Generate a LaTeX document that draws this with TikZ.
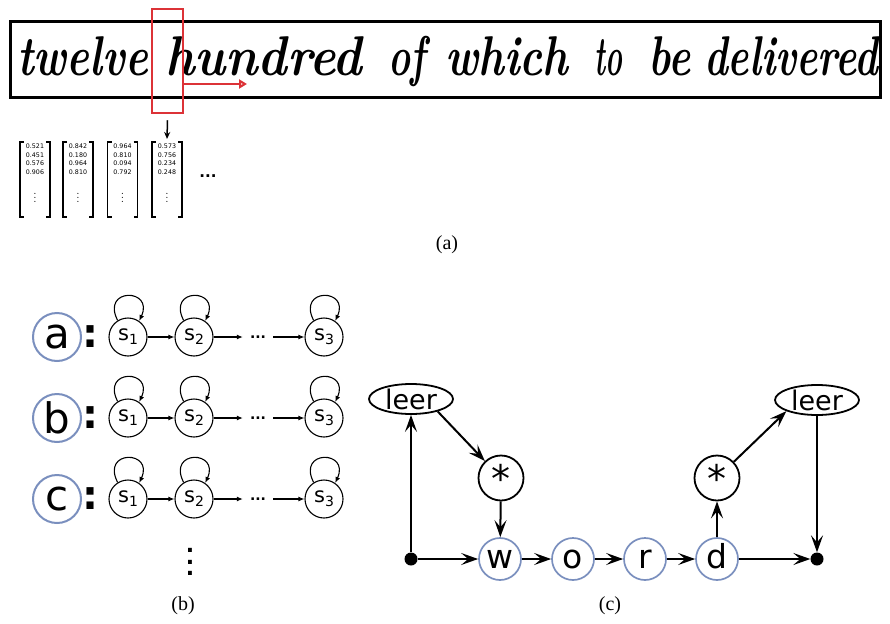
\documentclass[tikz,border=0pt]{standalone}
\usepackage{fontspec}
\usepackage{graphicx}
\newfontfamily\sansfont{DejaVu Sans}
\newfontfamily\capfont{Liberation Serif}
\usetikzlibrary{arrows.meta,shapes.geometric}
\definecolor{ringblue}{RGB}{122,143,190}
\definecolor{markred}{RGB}{220,50,55}
\newcommand\stsub[1]{\raisebox{-4pt}{\fontsize{14}{14}\selectfont#1}}
\newcommand\hw[3]{\node[handword] (#1) at (#2,76) {\resizebox{#3pt}{\height}{#1}};}

\begin{document}
\begin{tikzpicture}[x=1pt,y=-1pt,
  handword/.style={font=\fontsize{56}{56}\selectfont\bfseries\itshape, anchor=base west, inner sep=0},
  vecnums/.style={font=\sansfont\fontsize{6.3}{8.4}\selectfont, align=center, inner sep=0, anchor=north},
  bracket/.style={line width=1.8pt},
  state/.style={circle, draw, line width=1.1pt, minimum size=38pt, inner sep=0,
    font=\sansfont\fontsize{21}{21}\selectfont},
  rowlabel/.style={circle, draw=ringblue, line width=2pt, minimum size=48pt, inner sep=0,
    font=\sansfont\fontsize{42}{42}\selectfont},
  colon/.style={inner sep=0, font=\sansfont\bfseries\fontsize{40}{40}\selectfont},
  ellipsis/.style={inner xsep=7pt, inner ysep=0, font=\sansfont\bfseries\fontsize{14}{14}\selectfont},
  tr/.style={-{Latex[length=6pt,width=5pt]}, line width=1.1pt},
  letter/.style={circle, draw=ringblue, line width=1.7pt, minimum size=42pt, inner sep=0,
    text height=18pt, text depth=0pt, font=\sansfont\fontsize{33}{33}\selectfont},
  star/.style={circle, draw, line width=1.8pt, minimum size=45pt, inner sep=0,
    font=\sansfont\fontsize{38}{38}\selectfont},
  leer/.style={ellipse, draw, line width=1.8pt, minimum width=84pt, minimum height=30pt, inner sep=0,
    font=\sansfont\fontsize{27}{27}\selectfont},
  junction/.style={circle, fill, minimum size=13pt, inner sep=0},
  flow/.style={line width=2pt, -{Stealth[length=17pt,width=12pt,inset=7pt]}},
  caption/.style={font=\capfont\fontsize{20}{20}\selectfont}
]
\useasboundingbox (0,0) rectangle (890,623);

% ---- (a) handwritten line and its feature vectors ----
\draw[line width=3pt] (10,22) rectangle (880,98);
\hw{twelve}{17}{131}
\hw{hundred}{165}{197}
\hw{of}{388}{37}
\hw{which}{445}{123}
\hw{to}{594}{28}
\hw{be}{648}{42}
\hw{delivered}{704}{174}

\node[draw=markred, line width=2.5pt, minimum width=31pt, minimum height=104pt, inner sep=0]
  (redbox) at (167.5,61) {};
\coordinate (redtip) at (247,84);
\draw[markred, line width=2pt, -{Triangle[open,length=8pt,width=9pt]}] (redbox.east |- redtip) -- (redtip);

\foreach \n/\x/\va/\vb/\vc/\vd in {1/35/0.521/0.451/0.576/0.906,
    2/78/0.842/0.180/0.964/0.810,
    3/122.5/0.964/0.810/0.094/0.792,
    4/167/0.573/0.756/0.234/0.248}{
  \node[vecnums] (v\n) at (\x,144) {\va\\\vb\\\vc\\\vd};
  \node[font=\fontsize{12}{12}\selectfont, inner sep=0] (vd\n) at (\x,195) {$\vdots$};
  \draw[bracket] (\x-11,142) -- (\x-15,142) -- (\x-15,217) -- (\x-11,217);
  \draw[bracket] (\x+11,142) -- (\x+15,142) -- (\x+15,217) -- (\x+11,217);
}
\node[font=\sansfont\bfseries\fontsize{15}{15}\selectfont, inner sep=0] (vmore) at (208,176) {...};
\draw[line width=1.5pt, -{Stealth[length=7pt,width=6pt]}] ([yshift=-6pt]redbox.south) -- ([yshift=5pt]v4.north);

\node[caption] (capa) at (447,245) {(a)};

% ---- (b) left-to-right models, one per character ----
\foreach \row/\y in {a/337, b/418, c/499}{
  \node[rowlabel] (lab\row) at (57,\y) {\row};
  \node[colon] (col\row) at (90,\y) {:};
  \node[state] (\row1) at (128,\y) {s\stsub{1}};
  \node[state] (\row2) at (194,\y) {s\stsub{2}};
  \node[ellipsis] (\row dots) at (258,\y) {...};
  \node[state] (\row3) at (324,\y) {s\stsub{3}};
  \draw[tr] (\row1) -- (\row2);
  \draw[tr] (\row2) -- (\row dots);
  \draw[tr] (\row dots) -- (\row3);
  \foreach \k in {1,2,3}
    \draw[tr] (\row\k.122) .. controls +(-17,-33) and +(15,-33) .. (\row\k.55);
}
\node[align=center, inner sep=0, font=\sansfont\bfseries\fontsize{22}{11.5}\selectfont] (bmore) at (190,562) {.\\.\\.};
\node[caption] (capb) at (183,606) {(b)};

% ---- (c) word model with optional filler on both sides ----
\node[junction] (ldot) at (411,559) {};
\node[junction] (rdot) at (817,559) {};
\node[leer] (lleer) at (411,399) {leer};
\node[leer] (rleer) at (817,400) {leer};
\node[star] (lstar) at (501,478) {*};
\node[star] (rstar) at (717,478) {*};
\node[letter] (w) at (500,559) {w};
\node[letter] (o) at (573,559) {o};
\node[letter] (r) at (645,559) {r};
\node[letter] (d) at (717,559) {d};

\draw[flow] (ldot) -- (lleer);
\draw[flow] (lleer.-25) -- (lstar);
\draw[flow] (lstar) -- (w);
\draw[flow] (ldot) -- (w);
\draw[flow] (w) -- (o);
\draw[flow] (o) -- (r);
\draw[flow] (r) -- (d);
\draw[flow] (d) -- (rdot);
\draw[flow] (d) -- (rstar);
\draw[flow] (rstar) -- (rleer.200);
\draw[flow] (rleer) -- (rdot);

\node[caption] (capc) at (610,606) {(c)};
\end{tikzpicture}
\end{document}
